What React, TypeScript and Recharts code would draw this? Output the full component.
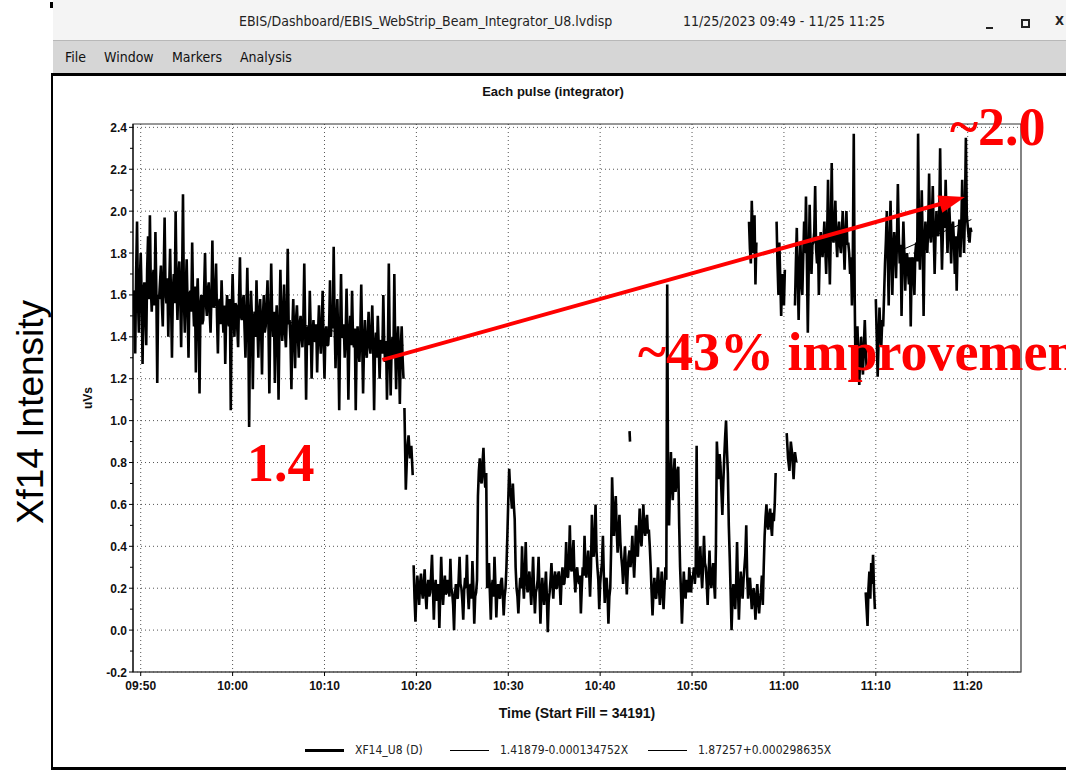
import React from 'react';
import {
  LineChart,
  Line,
  XAxis,
  YAxis,
  CartesianGrid,
  ReferenceLine,
  ReferenceArea,
} from 'recharts';

// ---- text ----
const windowTitle = 'EBIS/Dashboard/EBIS_WebStrip_Beam_Integrator_U8.lvdisp';
const windowRange = '11/25/2023 09:49 - 11/25 11:25';
const menuItems = ['File', 'Window', 'Markers', 'Analysis'];
const chartTitle = 'Each pulse (integrator)';
const xAxisTitle = 'Time (Start Fill = 34191)';
const yAxisTitle = 'uVs';
const sideTitle = 'Xf14 Intensity';
const legendLabels = ['XF14_U8 (D)', '1.41879-0.000134752X', '1.87257+0.000298635X'];
const noteStart = '1.4';
const noteGain = '~43% improvement';
const noteEnd = '~2.0';

// ---- axes (time in minutes after 09:00) ----
const xDomain = [49.16, 145.8];
const yDomain = [-0.2, 2.416];
const timeTicks = [50, 60, 70, 80, 90, 100, 110, 120, 130, 140];
const yGridValues = [-0.2, 0, 0.2, 0.4, 0.6, 0.8, 1.0, 1.2, 1.4, 1.6, 1.8, 2.0, 2.2, 2.4];
const yTickValues = [
  -0.2, -0.1, 0, 0.1, 0.2, 0.3, 0.4, 0.5, 0.6, 0.7, 0.8, 0.9, 1.0, 1.1, 1.2, 1.3,
  1.4, 1.5, 1.6, 1.7, 1.8, 1.9, 2.0, 2.1, 2.2, 2.3, 2.4,
];

// ---- XF14_U8 pulse integrator readings, one run per contiguous stretch ----
// morning fill, 09:49 - 10:18 (one reading every 6 s)
const segAStart = 49.2;
const segAStep = 0.1;
const segAValues = [
  1.62, 1.55, 1.32, 1.70, 1.95, 1.58, 1.42, 1.66,
  1.80, 1.60, 1.27, 1.62, 1.66, 1.50, 1.36, 1.72, 1.88, 1.58,
  1.98, 1.64, 1.52, 1.68, 1.72, 1.55, 1.90, 1.62, 1.18, 1.60,
  1.58, 1.66, 1.74, 1.56, 1.45, 1.70, 1.97, 1.62, 1.56, 1.68,
  1.40, 1.64, 1.82, 1.58, 1.30, 1.62, 1.70, 1.56, 2.00, 1.64,
  1.48, 1.68, 1.76, 1.60, 1.35, 1.66, 2.08, 1.58, 1.42, 1.62,
  1.77, 1.55, 1.30, 1.60, 1.62, 1.52, 1.85, 1.58, 1.45, 1.64,
  1.23, 1.56, 1.68, 1.50, 1.13, 1.55, 1.60, 1.46, 1.48, 1.62,
  1.80, 1.56, 1.50, 1.62, 1.66, 1.52, 1.42, 1.60, 1.86, 1.54,
  1.55, 1.62, 1.75, 1.50, 1.32, 1.56, 1.58, 1.46, 1.67, 1.52,
  1.42, 1.55, 1.27, 1.50, 1.60, 1.48, 1.45, 1.58, 1.05, 1.50,
  1.70, 1.52, 1.40, 1.56, 1.55, 1.45, 1.35, 1.58, 1.78, 1.50,
  1.48, 1.56, 1.60, 1.44, 1.30, 1.52, 1.73, 1.48, 0.97, 1.46,
  1.62, 1.50, 1.15, 1.48, 1.52, 1.40, 1.67, 1.46, 1.30, 1.52,
  1.58, 1.44, 1.22, 1.50, 1.60, 1.42, 1.45, 1.55, 1.67, 1.46,
  1.13, 1.48, 1.75, 1.50, 1.40, 1.52, 1.18, 1.45, 1.55, 1.40,
  1.10, 1.46, 1.72, 1.48, 1.38, 1.50, 1.65, 1.42, 1.35, 1.50,
  1.82, 1.46, 1.48, 1.38, 1.15, 1.44, 1.58, 1.40, 1.25, 1.48,
  1.55, 1.42, 1.30, 1.46, 1.50, 1.40, 1.35, 1.48, 1.75, 1.44,
  1.10, 1.42, 1.45, 1.36, 1.62, 1.44, 1.20, 1.40, 1.48, 1.38,
  1.38, 1.46, 1.23, 1.42, 1.55, 1.40, 1.32, 1.45, 1.62, 1.38,
  1.20, 1.42, 1.45, 1.36, 1.36, 1.44, 1.67, 1.40, 1.52, 1.44,
  1.83, 1.48, 1.25, 1.44, 1.58, 1.38, 1.05, 1.42, 1.70, 1.40,
  1.40, 1.46, 1.30, 1.40, 1.63, 1.42, 1.10, 1.38, 1.50, 1.36,
  1.62, 1.40, 1.35, 1.44, 1.05, 1.36, 1.45, 1.34, 1.28, 1.42,
  1.65, 1.38, 1.13, 1.36, 1.48, 1.34, 1.30, 1.40, 1.52, 1.36,
  1.32, 1.42, 1.55, 1.36, 1.05, 1.34, 1.42, 1.30, 1.50, 1.36,
  1.20, 1.38, 1.38, 1.32, 1.60, 1.36, 1.28, 1.38, 1.10, 1.34,
  1.75, 1.36, 1.12, 1.34, 1.40, 1.30, 1.70, 1.34, 1.15, 1.36,
  1.45, 1.32, 1.08, 1.34, 1.45, 1.30, 1.20,
];

// short drop around 10:19
const segBStart = 78.7;
const segBStep = 0.15;
const segBValues = [1.06, 0.67, 0.86, 0.93, 0.82, 0.88, 0.74];

// low-intensity stretch, 10:20 - 10:59
const segCStart = 79.7;
const segCStep = 0.1;
const segCValues = [
  0.31, 0.15, 0.04, 0.18, 0.26, 0.20, 0.12, 0.22, 0.27, 0.19,
  0.15, 0.22, 0.29, 0.17, 0.10, 0.20, 0.24, 0.16, 0.18, 0.26,
  0.36, 0.20, 0.05, 0.19, 0.24, 0.14, 0.16, 0.22, 0.01, 0.18,
  0.35, 0.21, 0.12, 0.20, 0.26, 0.17, 0.18, 0.24, 0.22, 0.16,
  0.34, 0.20, 0.18, 0.12, 0.00, 0.17, 0.22, 0.16, 0.15, 0.24,
  0.35, 0.22, 0.20, 0.14, 0.05, 0.19, 0.25, 0.20, 0.36, 0.18,
  0.10, 0.20, 0.22, 0.15, 0.33, 0.21, 0.03, 0.16, 0.18, 0.24,
  0.64, 0.76, 0.82, 0.72, 0.70, 0.80, 0.87, 0.74, 0.68, 0.75,
  0.20, 0.24, 0.32, 0.18, 0.05, 0.20, 0.24, 0.16, 0.35, 0.22,
  0.06, 0.18, 0.22, 0.16, 0.15, 0.23, 0.25, 0.18, 0.07, 0.16,
  0.20, 0.30, 0.45, 0.62, 0.77, 0.68, 0.64, 0.58, 0.70, 0.60,
  0.53, 0.30, 0.20, 0.16, 0.08, 0.18, 0.25, 0.20, 0.40, 0.24,
  0.15, 0.26, 0.42, 0.24, 0.18, 0.22, 0.28, 0.20, 0.12, 0.22,
  0.35, 0.20, 0.08, 0.18, 0.20, 0.24, 0.35, 0.19, 0.03, 0.16,
  0.25, 0.18, 0.12, 0.20, 0.28, 0.16, -0.01, 0.14, 0.18, 0.24,
  0.32, 0.22, 0.15, 0.24, 0.28, 0.20, 0.20, 0.26, 0.28, 0.22,
  0.12, 0.24, 0.30, 0.22, 0.22, 0.28, 0.42, 0.26, 0.25, 0.32,
  0.50, 0.30, 0.28, 0.36, 0.43, 0.26, 0.18, 0.27, 0.30, 0.24,
  0.22, 0.26, 0.08, 0.20, 0.30, 0.26, 0.45, 0.30, 0.25, 0.32,
  0.38, 0.28, 0.16, 0.30, 0.55, 0.40, 0.35, 0.44, 0.60, 0.38,
  0.30, 0.24, 0.10, 0.22, 0.28, 0.32, 0.45, 0.26, 0.13, 0.22,
  0.25, 0.18, 0.03, 0.16, 0.20, 0.40, 0.73, 0.58, 0.45, 0.56,
  0.64, 0.48, 0.37, 0.46, 0.55, 0.42, 0.35, 0.30, 0.22, 0.32,
  0.40, 0.30, 0.17, 0.28, 0.35, 0.38, 0.30, 0.36, 0.45, 0.34,
  0.25, 0.36, 0.50, 0.40, 0.35, 0.46, 0.58, 0.44, 0.40, 0.50,
  0.60, 0.48, 0.45, 0.52, 0.55, 0.46, 0.48, 0.40, 0.30, 0.18,
  0.07, 0.18, 0.25, 0.16, 0.15, 0.22, 0.30, 0.20, 0.12, 0.20,
  0.28, 0.18, 0.10, 0.20, 0.30, 0.24, 1.65, 0.60, 0.50, 0.70,
  0.85, 0.70, 0.62, 0.74, 0.82, 0.66, 0.70, 0.76, 0.78, 0.50,
  0.30, 0.18, 0.03, 0.16, 0.28, 0.20, 0.15, 0.24, 0.22, 0.18,
  0.30, 0.22, 0.18, 0.26, 0.25, 0.30, 0.22, 0.28, 0.88, 0.30,
  0.25, 0.32, 0.40, 0.28, 0.20, 0.30, 0.45, 0.32, 0.30, 0.22,
  0.12, 0.26, 0.38, 0.24, 0.20, 0.28, 0.32, 0.22, 0.15, 0.40,
  0.90, 0.80, 0.72, 0.84, 0.78, 0.66, 0.55, 0.70, 0.82, 0.92,
  1.00, 0.86, 0.75, 0.50, 0.35, 0.18, 0.00, 0.14, 0.22, 0.16,
  0.10, 0.22, 0.42, 0.20, 0.05, 0.18, 0.28, 0.20, 0.15, 0.24,
  0.30, 0.36, 0.50, 0.26, 0.15, 0.22, 0.25, 0.18, 0.10, 0.16,
  0.20, 0.14, 0.05, 0.16, 0.22, 0.14, 0.08, 0.15, 0.18, 0.26,
  0.12, 0.30, 0.45, 0.54, 0.60, 0.50, 0.48, 0.55, 0.58, 0.50,
  0.45, 0.56, 0.52, 0.60, 0.75,
];

// lone reading near 10:43
const segDashStart = 103.2;
const segDashStep = 0.05;
const segDashValues = [0.95, 0.9];

// brief bump around 11:00
const segC2Start = 120.3;
const segC2Step = 0.15;
const segC2Values = [0.94, 0.82, 0.76, 0.9, 0.84, 0.72, 0.85, 0.8];

// recovered beam, 10:56 - 11:21
const segD1Start = 116.2;
const segD1Step = 0.1;
const segD1Values = [1.95, 1.82, 1.75, 2.05, 1.88, 1.80, 1.98, 1.65, 1.85];

const segD2Start = 119.2;
const segD2Step = 0.1;
const segD2Values = [1.95, 1.75, 1.60, 1.85, 1.68, 1.50, 1.70, 1.62, 1.55, 1.72];

const segD3Start = 121.2;
const segD3Step = 0.1;
const segD3Values = [
  1.55, 1.75, 1.92, 1.70, 1.48, 1.72, 1.85, 1.66, 1.60, 1.78,
  1.95, 1.80, 2.07, 1.76, 1.42, 1.74, 2.03, 1.82, 1.70, 1.84,
  1.85, 1.90, 2.12, 1.82, 1.75, 1.88, 1.60, 1.80, 1.90, 1.84,
  1.78, 1.86, 1.95, 1.82, 1.70, 1.88, 2.15, 1.84, 1.65, 1.90,
  2.23, 1.88, 1.85, 1.94, 2.05, 1.86, 1.78, 1.90, 1.95, 1.84,
  1.80, 1.90, 2.00, 1.86, 1.72, 1.88, 2.00, 1.84, 1.85, 1.80,
  1.70, 1.78, 1.55, 1.80, 2.37, 1.60, 1.20, 1.38,
  1.45, 1.30, 1.17, 1.32, 1.40, 1.28, 1.22, 1.36, 1.48, 1.34, 1.25,
];

const segD4Start = 130.0;
const segD4Step = 0.1;
const segD4Values = [
  1.58, 1.40, 1.21, 1.38, 1.54, 1.42, 1.36, 1.48, 1.45, 1.60,
  1.75, 1.86, 2.00, 1.80, 1.55, 1.82, 2.05, 1.84, 1.60, 1.80,
  1.90, 1.82, 1.68, 1.86, 2.13, 1.88, 1.75, 1.84, 1.50, 1.78,
  1.95, 1.80, 1.62, 1.76, 1.80, 1.72, 1.65, 1.78, 1.45, 1.74,
  1.78, 1.70, 1.60, 1.80, 1.85, 1.76, 2.37, 1.88, 1.72, 1.90,
  2.10, 1.86, 1.50, 1.84, 1.95, 1.88, 1.80, 1.92, 2.18, 1.90,
  1.85, 1.96, 2.12, 1.90, 1.70, 1.88, 2.00, 1.92, 1.88, 1.96,
  2.30, 1.94, 1.72, 1.90, 2.05, 1.92, 2.15, 1.96, 1.80, 1.94,
  2.02, 1.90, 1.75, 1.92, 1.95, 1.86, 1.70, 1.88, 1.62, 1.84,
  1.90, 1.96, 1.78, 1.92, 2.15, 1.94, 1.80, 2.00, 2.35, 1.98,
  1.93, 1.88, 1.85, 1.92, 1.90,
];

// short low burst near 11:09
const segEStart = 128.9;
const segEStep = 0.1;
const segEValues = [0.18, 0.10, 0.02, 0.20, 0.28, 0.15, 0.32, 0.22, 0.36, 0.20, 0.10];

// linear fits
const fit1Times = [49.2, 78.6];
const fit1Values = [1.62, 1.36];
const fit2Times = [131.0, 140.4];
const fit2Values = [1.78, 1.96];

// trend arrow between the two fills
const trendTimes = [76.3, 139.7];
const trendValues = [1.29, 2.067];

type Pt = { t: number; v: number };
const run = (start: number, step: number, values: number[]): Pt[] =>
  values.map((v, i) => ({ t: +(start + i * step).toFixed(3), v }));
const pairs = (times: number[], values: number[]): Pt[] =>
  times.map((t, i) => ({ t, v: values[i] }));

const dataRuns: Pt[][] = [
  run(segAStart, segAStep, segAValues),
  run(segBStart, segBStep, segBValues),
  run(segCStart, segCStep, segCValues),
  run(segDashStart, segDashStep, segDashValues),
  run(segC2Start, segC2Step, segC2Values),
  run(segD1Start, segD1Step, segD1Values),
  run(segD2Start, segD2Step, segD2Values),
  run(segD3Start, segD3Step, segD3Values),
  run(segD4Start, segD4Step, segD4Values),
  run(segEStart, segEStep, segEValues),
];
const fit1 = pairs(fit1Times, fit1Values);
const fit2 = pairs(fit2Times, fit2Values);

const fmtTime = (m: number) => {
  const h = 9 + Math.floor(m / 60);
  const mm = Math.round(m % 60);
  return `${String(h).padStart(2, '0')}:${String(mm).padStart(2, '0')}`;
};

const SANS = '"Liberation Sans", Arial, Helvetica, sans-serif';
const NARROW = '"DejaVu Sans Condensed", "DejaVu Sans", sans-serif';
const SERIF = '"Liberation Serif", "Times New Roman", serif';
const RED = '#ff0000';

const YTick = (props: any) => {
  const { x, y, payload } = props;
  const v = payload.value as number;
  const major = Math.abs(Math.round(v * 10)) % 2 === 0;
  const axisX = x + 5;
  return (
    <g>
      <line x1={axisX} x2={axisX - (major ? 4 : 3)} y1={y} y2={y} stroke="#000" strokeWidth={1} />
      {major && (
        <text
          x={x - 1}
          y={y}
          dy={4.5}
          textAnchor="end"
          fontSize={12}
          fontWeight="bold"
          fontFamily={SANS}
          fill="#111"
        >
          {v.toFixed(1)}
        </text>
      )}
    </g>
  );
};

const TrendArrow = (p: any) => {
  const { x1, y1, x2, y2 } = p;
  if ([x1, y1, x2, y2].some((n) => typeof n !== 'number' || isNaN(n))) return <g />;
  const dx = x2 - x1;
  const dy = y2 - y1;
  const len = Math.hypot(dx, dy) || 1;
  const ux = dx / len;
  const uy = dy / len;
  const headLen = 26;
  const headHalf = 9;
  const bx = x2 - ux * headLen;
  const by = y2 - uy * headLen;
  const px = -uy;
  const py = ux;
  return (
    <g>
      <line x1={x1} y1={y1} x2={bx + ux * 3} y2={by + uy * 3} stroke={RED} strokeWidth={4} />
      <polygon
        points={`${x2},${y2} ${bx + px * headHalf},${by + py * headHalf} ${bx - px * headHalf},${by - py * headHalf}`}
        fill={RED}
      />
    </g>
  );
};

const legendLeft = [305, 450, 648];

export default function App() {
  return (
    <div
      style={{
        position: 'absolute',
        left: 0,
        top: 0,
        width: 1066,
        height: 770,
        background: '#fff',
        overflow: 'hidden',
      }}
    >
      {/* window title bar */}
      <div
        style={{
          position: 'absolute',
          left: 53,
          top: 0,
          width: 1013,
          height: 40,
          background: '#f4f4f4',
          borderBottom: '1px solid #b8b8b8',
        }}
      />
      <div style={{ position: 'absolute', left: 50, top: 2, width: 3, height: 6, background: '#000' }} />
      <div
        style={{
          position: 'absolute',
          left: 239,
          top: 13,
          fontFamily: NARROW,
          fontSize: 14,
          color: '#222',
          whiteSpace: 'nowrap',
        }}
      >
        {windowTitle}
      </div>
      <div
        style={{
          position: 'absolute',
          left: 683,
          top: 13,
          fontFamily: NARROW,
          fontSize: 14,
          color: '#222',
          whiteSpace: 'nowrap',
        }}
      >
        {windowRange}
      </div>
      <div style={{ position: 'absolute', left: 986, top: 27, width: 7, height: 2, background: '#222' }} />
      <div
        style={{
          position: 'absolute',
          left: 1021,
          top: 19,
          width: 5,
          height: 5,
          border: '2px solid #222',
        }}
      />
      <div
        style={{
          position: 'absolute',
          left: 1055,
          top: 13,
          fontFamily: NARROW,
          fontSize: 13,
          fontWeight: 'bold',
          color: '#222',
        }}
      >
        X
      </div>

      {/* menu bar */}
      <div
        style={{
          position: 'absolute',
          left: 53,
          top: 41,
          width: 1013,
          height: 32,
          background: '#d6d6d6',
        }}
      />
      {menuItems.map((m, i) => (
        <div
          key={m}
          style={{
            position: 'absolute',
            left: [65, 104, 172, 240][i],
            top: 49,
            fontFamily: NARROW,
            fontSize: 14,
            color: '#111',
            whiteSpace: 'nowrap',
          }}
        >
          {m}
        </div>
      ))}
      <div style={{ position: 'absolute', left: 51, top: 73, width: 1015, height: 3, background: '#000' }} />
      <div style={{ position: 'absolute', left: 51, top: 73, width: 2, height: 697, background: '#000' }} />
      <div style={{ position: 'absolute', left: 51, top: 767, width: 1015, height: 3, background: '#000' }} />

      {/* chart */}
      <div style={{ position: 'absolute', left: 53, top: 76 }}>
        <LineChart width={1013} height={694} margin={{ top: 48, right: 45, bottom: 51, left: 30 }}>
          <CartesianGrid
            stroke="#555"
            strokeDasharray="1 3"
            horizontalValues={yGridValues}
            verticalValues={timeTicks}
          />
          <XAxis
            type="number"
            dataKey="t"
            domain={xDomain}
            ticks={timeTicks}
            interval={0}
            allowDataOverflow
            tickFormatter={fmtTime}
            height={47}
            tickSize={4}
            tickMargin={5}
            axisLine={{ stroke: '#555' }}
            tickLine={{ stroke: '#000' }}
            tick={{ fontSize: 12, fontWeight: 'bold', fontFamily: SANS, fill: '#111' }}
            label={{
              value: xAxisTitle,
              position: 'insideBottom',
              offset: 1,
              style: { fontSize: 14, fontWeight: 'bold', fontFamily: SANS, fill: '#111' },
            }}
          />
          <YAxis
            type="number"
            dataKey="v"
            domain={yDomain}
            ticks={yTickValues}
            interval={0}
            allowDataOverflow
            width={50}
            tickSize={4}
            tickMargin={1}
            tickLine={false}
            axisLine={{ stroke: '#000' }}
            tick={YTick}
            label={{
              value: yAxisTitle,
              angle: -90,
              position: 'insideLeft',
              offset: 5,
              style: { fontSize: 12, fontWeight: 'bold', fontFamily: SANS, fill: '#111', textAnchor: 'middle' },
            }}
          />
          <ReferenceArea
            x1={xDomain[0]}
            x2={xDomain[1]}
            y1={yDomain[0]}
            y2={yDomain[1]}
            fill="none"
            stroke="#333"
            strokeWidth={1.2}
          />
          <Line
            data={fit1}
            dataKey="v"
            stroke="#000"
            strokeWidth={1}
            dot={false}
            isAnimationActive={false}
          />
          <Line
            data={fit2}
            dataKey="v"
            stroke="#000"
            strokeWidth={1}
            dot={false}
            isAnimationActive={false}
          />
          {dataRuns.map((d, i) => (
            <Line
              key={i}
              data={d}
              dataKey="v"
              stroke="#000"
              strokeWidth={2.6}
              strokeLinejoin="bevel"
              dot={false}
              isAnimationActive={false}
            />
          ))}
          <ReferenceLine
            segment={[
              { x: trendTimes[0], y: trendValues[0] },
              { x: trendTimes[1], y: trendValues[1] },
            ]}
            stroke={RED}
            strokeWidth={4}
            shape={TrendArrow}
          />
        </LineChart>
      </div>

      {/* annotations */}
      <svg
        width={1066}
        height={770}
        style={{ position: 'absolute', left: 0, top: 0, pointerEvents: 'none' }}
      >
        <text
          x={553}
          y={96}
          textAnchor="middle"
          fontFamily={SANS}
          fontWeight="bold"
          fontSize={13}
          fill="#111"
        >
          {chartTitle}
        </text>
        <text
          transform="translate(43,412) rotate(-90)"
          textAnchor="middle"
          fontFamily={SANS}
          fontSize={37}
          fill="#000"
        >
          {sideTitle}
        </text>
        <text x={247} y={481} fontFamily={SERIF} fontWeight="bold" fontSize={54} fill={RED}>
          {noteStart}
        </text>
        <text x={638} y={370} fontFamily={SERIF} fontWeight="bold" fontSize={54} fill={RED}>
          {noteGain}
        </text>
        <text x={950} y={145} fontFamily={SERIF} fontWeight="bold" fontSize={54} fill={RED}>
          {noteEnd}
        </text>
      </svg>

      {/* legend */}
      {legendLabels.map((label, i) => (
        <div
          key={label}
          style={{
            position: 'absolute',
            left: legendLeft[i],
            top: 743,
            display: 'flex',
            alignItems: 'center',
            fontFamily: NARROW,
            fontSize: 12,
            color: '#222',
            whiteSpace: 'nowrap',
          }}
        >
          <div
            style={{
              width: 39,
              height: i === 0 ? 3 : 1,
              background: '#000',
              marginRight: 11,
            }}
          />
          <span>{label}</span>
        </div>
      ))}
    </div>
  );
}
